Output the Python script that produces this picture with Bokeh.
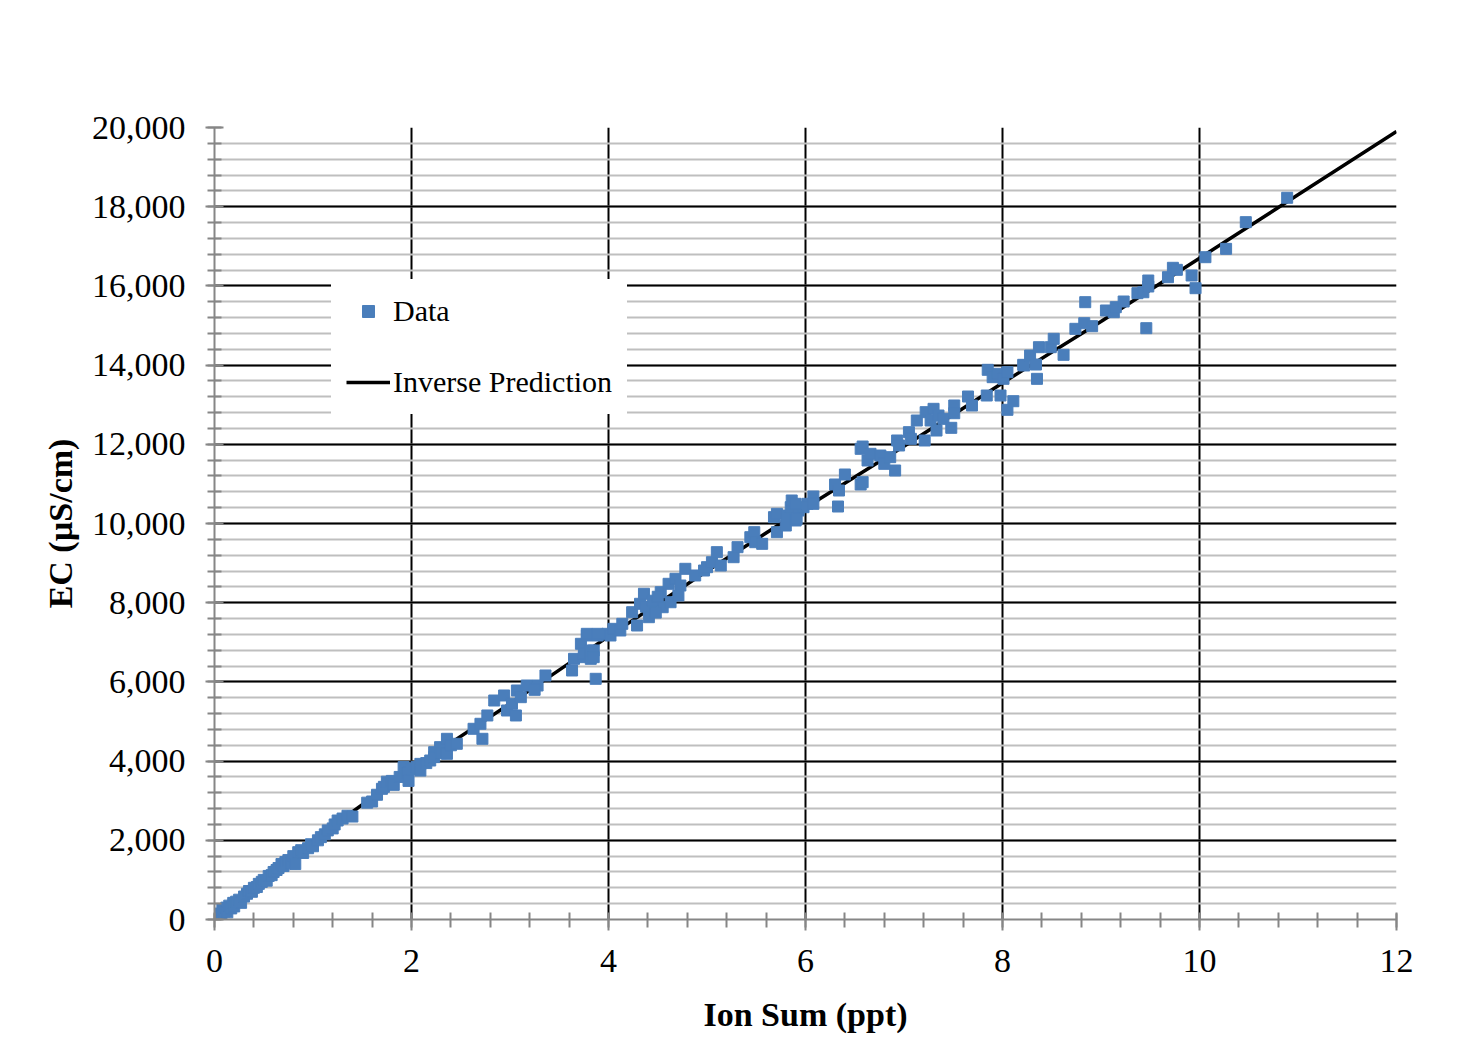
from bokeh.plotting import figure
from bokeh.models import (Range1d, SingleIntervalTicker, NumeralTickFormatter, Legend, LegendItem)
from bokeh.embed import file_html
from bokeh.resources import INLINE

# ---- data ----
ion_sum = [0.03, 0.05, 0.07, 0.08, 0.10, 0.12, 0.13, 0.15, 0.17, 0.19, 0.20, 0.22, 0.25, 0.27, 0.30,
           0.33, 0.35, 0.38, 0.40, 0.43, 0.45, 0.48, 0.50, 0.53, 0.55, 0.58, 0.60, 0.63, 0.65, 0.68,
           0.70, 0.72, 0.75, 0.78, 0.80, 0.82, 0.85, 0.88, 0.90, 0.95, 0.98, 1.00, 1.05, 1.08, 1.12,
           1.15, 1.20, 1.22, 1.25, 1.30, 1.35, 1.40, 1.55, 1.60, 1.65, 1.70, 1.72, 1.75, 1.80, 1.82,
           1.88, 1.92, 1.96, 1.97, 2.00,
           2.05, 2.09, 2.09, 2.15, 2.19, 2.23, 2.23, 2.29, 2.30, 2.36, 2.36, 2.40, 2.46,
           2.63, 2.70, 2.72, 2.77, 2.84, 2.94, 2.97, 3.02, 3.06, 3.07, 3.11, 3.17, 3.28, 3.25, 3.36,
           3.63, 3.65, 3.72, 3.75, 3.75, 3.78, 3.78, 3.82, 3.82, 3.85, 3.85, 3.87, 3.89, 3.89, 3.99,
           4.02, 4.05, 4.12, 4.14,
           4.24, 4.29, 4.32, 4.36, 4.41, 4.43, 4.55, 4.53, 4.61, 4.63, 4.68, 4.71, 4.73, 4.78, 4.88,
           4.97, 5.00, 4.38, 4.45, 4.48, 4.50,
           5.05, 5.10, 5.14, 5.27, 5.31, 5.44, 5.48, 5.49, 5.56,
           5.68, 5.71, 5.71, 5.80, 5.81, 5.85, 5.86, 5.90, 5.93, 6.02, 6.08, 5.98, 5.90, 5.91, 6.08,
           6.30, 6.33, 6.34, 6.40, 6.56, 6.58, 6.56, 6.58, 6.63, 6.66, 6.76, 6.80, 6.86, 6.91, 6.93,
           6.95, 7.05, 7.07,
           7.13, 7.21, 7.22, 7.27, 7.30, 7.33, 7.35, 7.40, 7.48, 7.51, 7.51, 7.65, 7.69,
           7.84, 7.85, 7.90, 7.95, 7.98, 8.01, 8.05, 8.05, 8.11, 8.21, 8.22, 8.28, 8.34, 8.35, 8.37,
           8.49, 8.52, 8.62,
           8.74, 8.83, 8.84, 8.91, 9.05, 9.13, 9.15, 9.23, 9.37, 9.43, 9.46, 9.48, 9.48,
           9.68, 9.73, 9.77, 9.92, 9.96, 10.06, 10.27, 10.47, 10.89]
ec = [60, 150, 100, 250, 200, 300, 180, 350, 280, 420, 330, 450, 500, 420, 580,
      650, 720, 700, 800, 820, 900, 950, 1000, 980, 1100, 1120, 1200, 1250, 1300, 1400,
      1350, 1450, 1500, 1420, 1600, 1400, 1700, 1750, 1680, 1800, 1900, 1850, 2000, 2080, 2150,
      2250, 2300, 2400, 2500, 2550, 2620, 2600, 2950, 2980, 3150, 3300, 3350, 3480, 3500, 3400,
      3600, 3850, 3700, 3500, 3800,
      3850, 3930, 3760, 3950, 4015, 4226, 4100, 4352, 4200, 4563, 4184, 4400, 4437,
      4816, 4942, 4563, 5152, 5530, 5657, 5278, 5447, 5152, 5783, 5614, 5909, 5909, 5800, 6162,
      6288, 6583, 6962, 6625, 6709, 7172, 7214, 6583, 6793, 6793, 6625, 6078, 7172, 7214, 7214,
      7172, 7340, 7298, 7467,
      7760, 7424, 7972, 8225, 7634, 7803, 7886, 8265, 8477, 8012, 8603, 8182, 8434, 8856, 8687,
      8813, 8897, 7900, 8050, 7750, 8150,
      9023, 9276, 8939, 9149, 9402, 9654, 9781, 9528, 9487,
      10160, 10244, 9781, 9949, 10202, 10412, 10581, 10076, 10328, 10497, 10682, 10412, 10497, 10118, 10497,
      10985, 10429, 10833, 11237, 10985, 11044, 11886, 11944, 11591, 11760, 11717, 11507, 11675, 11338, 12096,
      11970, 12306, 12138,
      12601, 12096, 12811, 12601, 12896, 12348, 12727, 12643, 12416, 12980, 12785, 13207, 12980,
      13232, 13881, 13695, 13780, 13232, 13654, 13821, 12871, 13088, 14007, 13990, 14242, 14015, 13653, 14452,
      14452, 14664, 14260,
      14916, 15058, 15589, 14983, 15379, 15336, 15462, 15606, 15816, 15840, 14932, 15985, 16136,
      16220, 16457, 16406, 16263, 15942, 16725, 16936, 17610, 18225]

pred_x = [0, 0.5, 1, 2, 3, 4, 5, 6, 7, 8, 9, 10, 11, 12]
pred_y = [0, 1050, 2000, 3800, 5450, 7150, 8800, 10400, 11950, 13550, 15100, 16700, 18300, 19900]

x_title = "Ion Sum (ppt)"
y_title = "EC (µS/cm)"
legend_labels = ["Data", "Inverse Prediction"]

SERIF = "Liberation Serif"
BLUE = "#4A7EBB"
GRAY = "#868686"

p = figure(width=1458, height=1059, output_backend="svg", toolbar_location=None,
           x_range=Range1d(0, 12), y_range=Range1d(0, 20000),
           min_border_left=214, min_border_right=62, min_border_top=127, min_border_bottom=140)
p.background_fill_color = "white"
p.border_fill_color = "white"
p.outline_line_color = None

xt = SingleIntervalTicker(interval=2, num_minor_ticks=5)
yt = SingleIntervalTicker(interval=2000, num_minor_ticks=5)
p.xaxis.ticker = xt
p.yaxis.ticker = yt
p.xgrid.ticker = xt
p.ygrid.ticker = yt
p.yaxis.formatter = NumeralTickFormatter(format="0,0")

p.xgrid.grid_line_color = "black"
p.xgrid.grid_line_width = 2
p.ygrid.grid_line_color = "black"
p.ygrid.grid_line_width = 2
p.ygrid.minor_grid_line_color = "#BFBFBF"
p.ygrid.minor_grid_line_width = 2

for ax in (p.xaxis[0], p.yaxis[0]):
    ax.axis_line_color = GRAY
    ax.axis_line_width = 2
    ax.major_tick_line_color = GRAY
    ax.minor_tick_line_color = GRAY
    ax.major_tick_line_width = 2
    ax.minor_tick_line_width = 2
    ax.major_label_text_font = SERIF
    ax.major_label_text_font_size = "34px"
    ax.major_label_text_color = "black"
    ax.axis_label_text_font = SERIF
    ax.axis_label_text_font_size = "34px"
    ax.axis_label_text_font_style = "bold"
    ax.axis_label_text_color = "black"

p.xaxis.major_tick_in = 6
p.xaxis.major_tick_out = 11
p.xaxis.minor_tick_in = 7
p.xaxis.minor_tick_out = 8
p.yaxis.major_tick_in = 9
p.yaxis.major_tick_out = 9
p.yaxis.minor_tick_in = 7
p.yaxis.minor_tick_out = 7
p.xaxis.major_label_standoff = 19
p.yaxis.major_label_standoff = 20
p.xaxis.axis_label = x_title
p.yaxis.axis_label = y_title
p.xaxis.axis_label_standoff = 21
p.yaxis.axis_label_standoff = 10

line_r = p.line(pred_x, pred_y, line_color="black", line_width=3.5)
pts_r = p.scatter(ion_sum, ec, marker="square", size=11, fill_color=BLUE, line_color=BLUE)

legend = Legend(items=[LegendItem(label=legend_labels[0], renderers=[pts_r]),
                       LegendItem(label=legend_labels[1], renderers=[line_r])],
                location=(117, 505), orientation="vertical")
legend.border_line_color = "white"
legend.border_line_width = 1
legend.background_fill_color = "white"
legend.background_fill_alpha = 1.0
legend.label_text_font = SERIF
legend.label_text_font_size = "30px"
legend.label_text_color = "black"
legend.glyph_width = 44
legend.glyph_height = 30
legend.label_height = 30
legend.label_standoff = 3
legend.spacing = 37
legend.padding = 14
legend.margin = 0
p.add_layout(legend, "center")

open("out.html", "w").write(file_html(p, INLINE))
